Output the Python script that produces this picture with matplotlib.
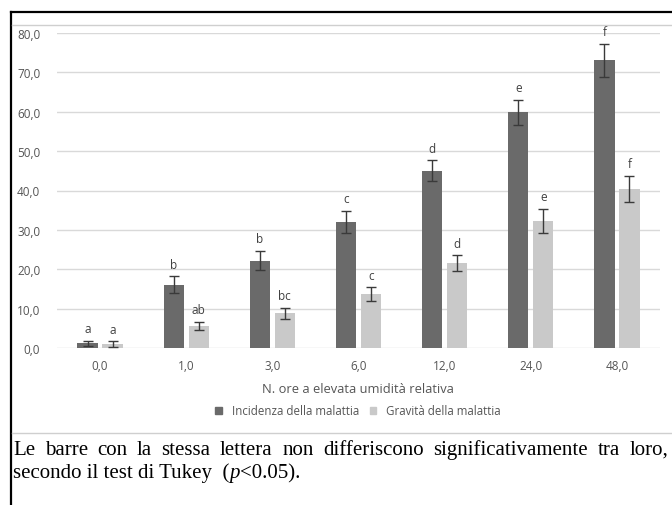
"""Incidenza e gravità della malattia vs ore di elevata umidità relativa."""

import matplotlib

matplotlib.use("Agg")
import matplotlib.pyplot as plt  # noqa: E402
import numpy as np  # noqa: E402
from matplotlib.lines import Line2D  # noqa: E402

hours = ["0,0", "1,0", "3,0", "6,0", "12,0", "24,0", "48,0"]
incidenza = [1.2, 16.1, 22.2, 32.1, 45.0, 59.9, 73.1]
incidenza_err = [0.7, 2.1, 2.5, 2.8, 2.7, 3.2, 4.2]
incidenza_lett = ["a", "b", "b", "c", "d", "e", "f"]
gravita = [1.0, 5.6, 8.8, 13.7, 21.6, 32.3, 40.4]
gravita_err = [0.7, 1.0, 1.4, 1.7, 2.0, 3.0, 3.3]
gravita_lett = ["a", "ab", "bc", "c", "d", "e", "f"]
yticks = [0, 10, 20, 30, 40, 50, 60, 70, 80]

DARK = "#6a6a6a"
LIGHT = "#c9c9c9"
GRID = "#d9d9d9"
TXT = "#555555"
SANS = "Open Sans"

W, H = 672, 506
fig = plt.figure(figsize=(W / 100, H / 100), dpi=100)
fig.patch.set_facecolor("white")

# frame lines of the figure box
fig.add_artist(Line2D([11 / W, 11 / W], [0, 1 - 13 / H], color="black", lw=1.6))
fig.add_artist(Line2D([11 / W, 1], [1 - 13 / H, 1 - 13 / H], color="black", lw=1.6))
fig.add_artist(Line2D([12 / W, 1], [1 - 26 / H, 1 - 26 / H], color="#cfcfcf", lw=1))
fig.add_artist(Line2D([12 / W, 1], [1 - 434 / H, 1 - 434 / H], color="#cfcfcf", lw=1))

ax = fig.add_axes([57 / W, 1 - 349 / H, (660 - 57) / W, (349 - 34) / H])
x = np.arange(len(hours))
bw, off = 0.235, 0.145
ek = dict(ecolor="#3a3a3a", elinewidth=1, capsize=3.8, capthick=1)
ax.bar(x - off, incidenza, bw, yerr=incidenza_err, color=DARK, error_kw=ek, zorder=3)
ax.bar(x + off, gravita, bw, yerr=gravita_err, color=LIGHT, error_kw=ek, zorder=3)

for xs, vals, errs, letters in [
    (x - off, incidenza, incidenza_err, incidenza_lett),
    (x + off, gravita, gravita_err, gravita_lett),
]:
    for xi, v, e, t in zip(xs, vals, errs, letters):
        ax.text(xi, v + e + 1.4, t, ha="center", va="bottom", fontsize=8.5,
                color="#404040", family=SANS, clip_on=False)

ax.set_xlim(-0.5, len(hours) - 0.5)
ax.set_ylim(0, 80)
ax.set_yticks(yticks)
ax.set_yticklabels([f"{v:.1f}".replace(".", ",") for v in yticks])
ax.set_xticks(x)
ax.set_xticklabels(hours)
ax.yaxis.grid(True, color=GRID, lw=1, zorder=0)
ax.set_axisbelow(True)
for s in ax.spines.values():
    s.set_visible(False)
ax.tick_params(length=0, labelsize=8.5, labelcolor=TXT, pad=8)
ax.tick_params(axis="y", pad=12)
for lab in ax.get_xticklabels() + ax.get_yticklabels():
    lab.set_family(SANS)
ax.patch.set_alpha(0)

fig.text(358 / W, 1 - 390 / H, "N. ore a elevata umidità relativa", ha="center",
         va="center", fontsize=9.3, color=TXT, family=SANS)
ax.legend(
    handles=[
        plt.Rectangle((0, 0), 1, 1, color=DARK),
        plt.Rectangle((0, 0), 1, 1, color=LIGHT),
    ],
    labels=["Incidenza della malattia", "Gravità della malattia"],
    loc="center", bbox_to_anchor=(358 / W, 1 - 412 / H), bbox_transform=fig.transFigure,
    ncol=2, frameon=False, handlelength=0.55, handleheight=0.55, columnspacing=0.9,
    handletextpad=0.9, prop={"family": SANS, "size": 8.3}, labelcolor=TXT,
)

# caption: first line justified word by word, second line in three pieces
line1 = "Le barre con la stessa lettera non differiscono significativamente tra loro,"
x0, x1 = 13, 668
cap = dict(fontsize=15, family="Liberation Serif", color="black", va="baseline")
renderer = fig.canvas.get_renderer()
words = [fig.text(0, 0, w, **cap) for w in line1.split()]
widths = [t.get_window_extent(renderer).width for t in words]
gap = (x1 - x0 - sum(widths)) / (len(words) - 1)
pos = x0
for t, wd in zip(words, widths):
    t.set_position((pos / W, 1 - 455 / H))
    pos += wd + gap

pos = x0
for piece, style in [("secondo il test di Tukey  (", "normal"), ("p", "italic"),
                     ("<0.05).", "normal")]:
    t = fig.text(pos / W, 1 - 478 / H, piece, style=style, **cap)
    pos += t.get_window_extent(renderer).width

fig.savefig("out.png", dpi=100)
